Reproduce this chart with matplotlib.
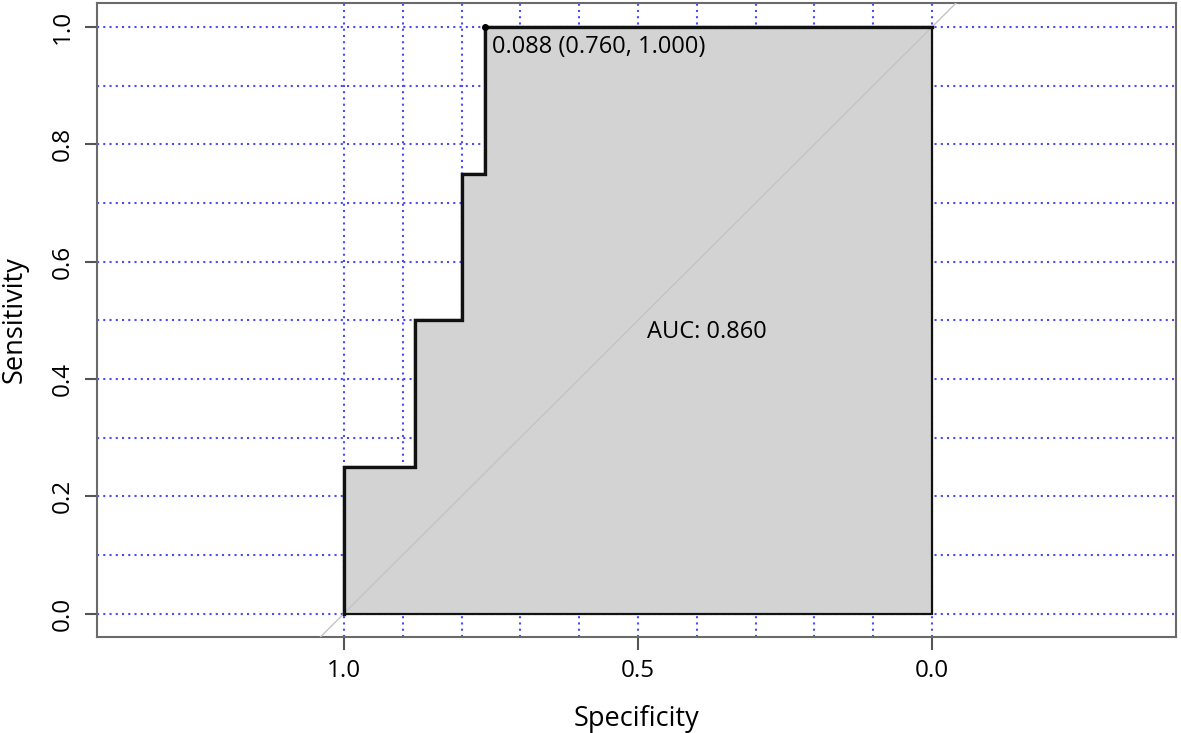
import matplotlib
matplotlib.use("Agg")
import matplotlib.pyplot as plt
import numpy as np

plt.rcParams['font.family'] = ['Open Sans', 'DejaVu Sans']

# ROC curve steps (specificity, sensitivity)
specificity = [1.0, 1.0, 0.88, 0.88, 0.80, 0.80, 0.76, 0.76, 0.0]
sensitivity = [0.0, 0.25, 0.25, 0.50, 0.50, 0.75, 0.75, 1.0, 1.0]
best_spec, best_sens, best_thr = 0.760, 1.000, 0.088
auc_value = 0.860
x_ticks = [1.0, 0.5, 0.0]
y_ticks = [0.0, 0.2, 0.4, 0.6, 0.8, 1.0]
grid_vals = np.round(np.arange(0, 1.01, 0.1), 1)

W, H = 1181, 733
fig = plt.figure(figsize=(W / 100, H / 100), dpi=100)
ax = fig.add_axes([97 / W, 1 - 637 / H, (1176 - 97) / W, (637 - 3) / H])
ax.set_xlim(1.42, -0.415)
ax.set_ylim(-0.04, 1.041)

# grid
for g in grid_vals:
    ax.axvline(g, color='#4a4aff', lw=1.5, ls=(0, (1, 2.0)), zorder=1)
    ax.axhline(g, color='#4a4aff', lw=1.5, ls=(0, (1, 2.0)), zorder=1)

# AUC polygon
px = specificity + [0.0, 1.0]
py = sensitivity + [0.0, 0.0]
ax.fill(px, py, facecolor='#d3d3d3', edgecolor='#111111', lw=1.6, zorder=2)

# diagonal
ax.axline((1.0, 0.0), (0.0, 1.0), color='#c4c4c4', lw=1.0, zorder=3)

# curve
ax.plot(specificity, sensitivity, color='#111111', lw=2.4, zorder=4,
        solid_joinstyle='miter')
ax.plot([best_spec], [best_sens], 'o', color='black', ms=4, zorder=5)
ax.text(best_spec - 0.012, best_sens - 0.014,
        f"{best_thr:.3f} ({best_spec:.3f}, {best_sens:.3f})",
        ha='left', va='top', fontsize=17, zorder=6)
ax.text(0.484, 0.5, f"AUC: {auc_value:.3f}", ha='left', va='top', fontsize=17, zorder=6)

ax.set_xticks(x_ticks)
ax.set_xticklabels([f"{v:.1f}" for v in x_ticks])
ax.set_yticks(y_ticks)
ax.set_yticklabels([f"{v:.1f}" for v in y_ticks], rotation=90, va='center')
ax.tick_params(length=9, width=1.5, color='#555555', labelsize=17.5, pad=7)
for s in ax.spines.values():
    s.set_color('#6a6a6a')
    s.set_linewidth(1.5)

ax.set_xlabel("Specificity", fontsize=19.5, labelpad=16)
ax.set_ylabel("Sensitivity", fontsize=19.5, labelpad=16)

fig.savefig("out.png", dpi=100)
